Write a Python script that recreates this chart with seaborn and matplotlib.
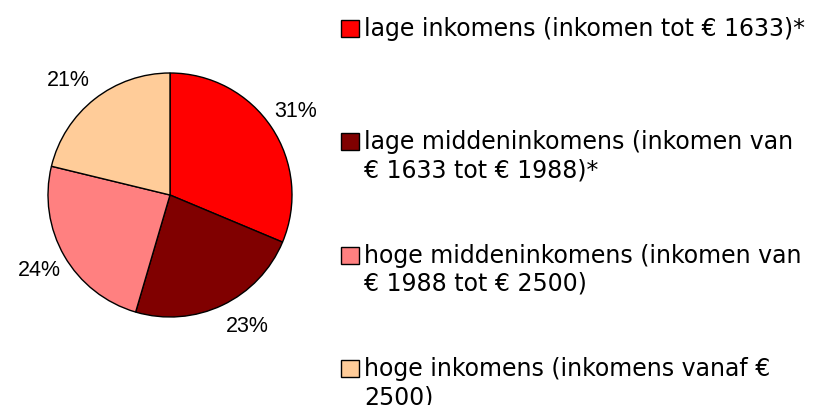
import matplotlib
matplotlib.use("Agg")
import matplotlib.pyplot as plt
from matplotlib.patches import Rectangle
import seaborn as sns

# income groups (share of households, %)
categories = [
    "lage inkomens (inkomen tot € 1633)*",
    "lage middeninkomens (inkomen van\n€ 1633 tot € 1988)*",
    "hoge middeninkomens (inkomen van\n€ 1988 tot € 2500)",
    "hoge inkomens (inkomens vanaf €\n2500)",
]
shares = [31, 23, 24, 21]
colors = ["#FF0000", "#800000", "#FF8080", "#FFCC99"]

sns.set_style("white")
plt.rcParams["font.family"] = ["DejaVu Sans"]

W, H = 825, 405
fig = plt.figure(figsize=(W / 100, H / 100), dpi=100)

# pie axes placed in pixel terms: centre (170, 195), radius 122
cx, cy, r = 170, 195, 122
ax = fig.add_axes([(cx - r) / W, (H - cy - r) / H, 2 * r / W, 2 * r / H])
wedges, _, pct = ax.pie(
    shares,
    colors=colors,
    startangle=90,
    counterclock=False,
    autopct="%.0f%%",
    pctdistance=1.24,
    wedgeprops=dict(edgecolor="black", linewidth=1.0),
    textprops=dict(fontsize=15.5, family="Liberation Sans", color="black"),
)
# small nudges so the labels sit where the original chart put them
nudges = [(0.0, 0.0), (0.1, 0.04), (0.0, 0.0), (-0.07, -0.04)]
for t, (dx, dy) in zip(pct, nudges):
    x, y = t.get_position()
    t.set_position((x + dx, y + dy))
ax.set_xlim(-1, 1)
ax.set_ylim(-1, 1)
ax.set_aspect("equal")
ax.axis("off")

# legend drawn by hand so the swatch lines up with the first text line
item_top = [20, 133, 247, 360]
line_gap = 28
for top, label, col in zip(item_top, categories, colors):
    fig.add_artist(Rectangle((341 / W, 1 - (top + 17) / H), 18 / W, 17 / H,
                             transform=fig.transFigure, facecolor=col,
                             edgecolor="black", linewidth=1.0))
    for i, line in enumerate(label.split("\n")):
        fig.text(364 / W, 1 - (top + 16 + i * line_gap) / H, line,
                 fontsize=17, va="baseline", ha="left", color="black")

fig.savefig("out.png", dpi=100, facecolor="white")
